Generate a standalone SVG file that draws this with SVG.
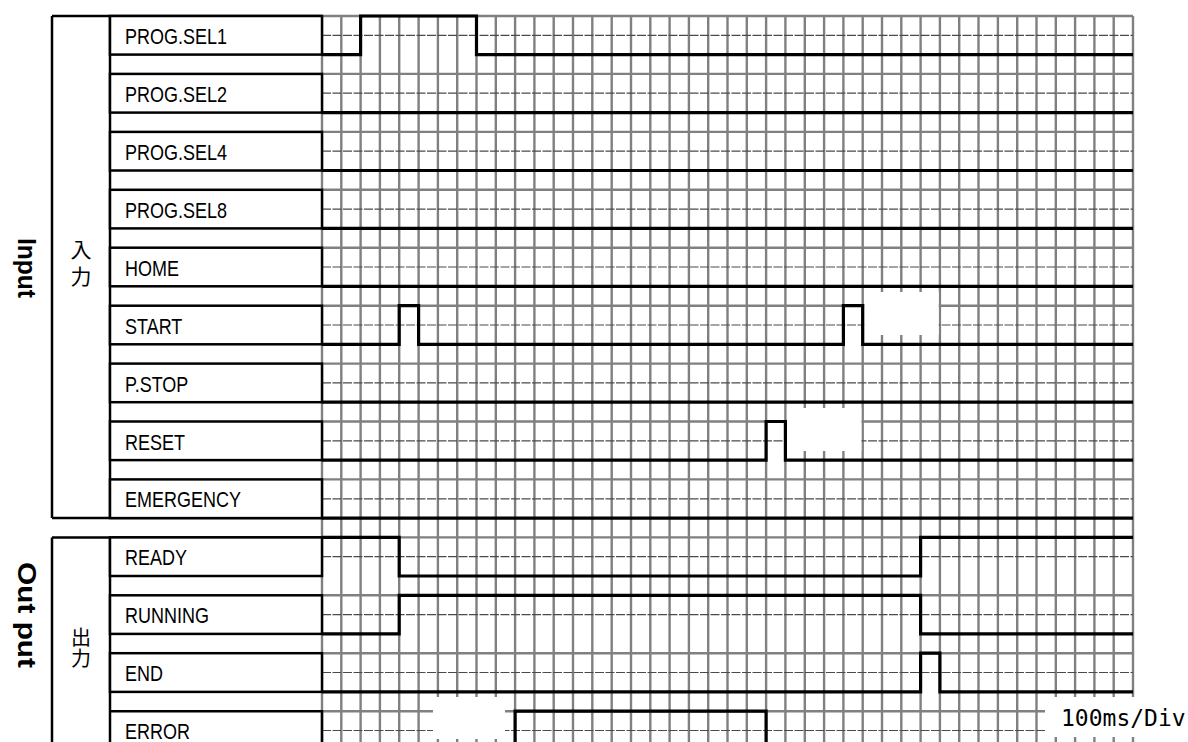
<svg xmlns="http://www.w3.org/2000/svg" width="1188" height="742" viewBox="0 0 1188 742">
<style>
.grid{stroke:#808080;stroke-width:2.4;fill:none}
.mid{stroke:#4a4a4a;stroke-width:1.2;fill:none;stroke-dasharray:9 1.5}
.frame{stroke:#000;stroke-width:2.5;fill:none}
.box{stroke:#000;stroke-width:2.5;fill:#fff}
.wave{stroke:#000;stroke-width:3.2;fill:none;stroke-linejoin:miter}
.lbl{font-family:"Liberation Sans",Arial,sans-serif;font-size:18px;fill:#000}
.side{font-family:"Liberation Sans",Arial,sans-serif;font-size:26px;font-weight:bold;fill:#000}
.jp{font-family:"Noto Sans CJK JP","Noto Sans CJK SC",sans-serif;font-size:21px;fill:#000;writing-mode:vertical-rl;text-anchor:middle}
.blank{fill:#fff;stroke:none}
</style>
<rect width="1188" height="742" fill="#fff"/>
<g id="grid">
<path class="grid" d="M322,16V742M341.3,16V742M360.6,16V742M379.9,16V742M399.2,16V742M418.6,16V742M437.9,16V742M457.2,16V742M476.5,16V742M495.8,16V742M515.1,16V742M534.4,16V742M553.7,16V742M573,16V742M592.3,16V742M611.7,16V742M631,16V742M650.3,16V742M669.6,16V742M688.9,16V742M708.2,16V742M727.5,16V742M746.8,16V742M766.1,16V742M785.4,16V742M804.8,16V742M824.1,16V742M843.4,16V742M862.7,16V742M882,16V742M901.3,16V742M920.6,16V742M939.9,16V742M959.2,16V742M978.5,16V742M997.9,16V742M1017.2,16V742M1036.5,16V742M1055.8,16V742M1075.1,16V742M1094.4,16V742M1113.7,16V742M1133,16V742"/>
<path class="grid" d="M322,16H1133M322,73.9H1133M322,131.9H1133M322,189.8H1133M322,247.7H1133M322,305.7H1133M322,363.6H1133M322,421.5H1133M322,479.4H1133M322,537.4H1133M322,595.3H1133M322,653.2H1133M322,711.2H1133"/>
<path class="mid" d="M322,35.3H1133M322,93.2H1133M322,151.2H1133M322,209.1H1133M322,267H1133M322,325H1133M322,382.9H1133M322,440.8H1133M322,498.8H1133M322,556.7H1133M322,614.6H1133M322,672.5H1133M322,730.5H1133"/>
</g>
<g id="blanks">
<rect class="blank" x="864.2" y="292" width="74.5" height="43"/>
<rect class="blank" x="786.9" y="408" width="74.5" height="43"/>
<rect class="blank" x="433" y="697" width="72" height="42"/>
<rect class="blank" x="1045" y="697" width="143" height="40"/>
</g>
<g id="frame-input">
<path class="frame" d="M52,16V518.1M110,16V518.1M52,16H322M52,518.1H322"/>
<text class="side" transform="translate(18,238) rotate(90)" textLength="60" lengthAdjust="spacingAndGlyphs">Input</text>
<text class="jp" x="81" y="266" letter-spacing="6">入力</text>
</g>
<g id="frame-output">
<path class="frame" d="M52,537.4V742M110,537.4V742M52,537.4H322"/>
<text class="side" transform="translate(18,562) rotate(90)" textLength="106" lengthAdjust="spacingAndGlyphs">Out put</text>
<text class="jp" x="81" y="648" letter-spacing="1" style="font-size:20px">出力</text>
</g>
<g id="sig-prog-sel1">
<rect class="box" x="110" y="16" width="212" height="38.6"/>
<text class="lbl" transform="translate(125,44) scale(1,1.22)">PROG.SEL1</text>
</g>
<g id="sig-prog-sel2">
<rect class="box" x="110" y="73.9" width="212" height="38.7"/>
<text class="lbl" transform="translate(125,101.9) scale(1,1.22)">PROG.SEL2</text>
</g>
<g id="sig-prog-sel4">
<rect class="box" x="110" y="131.9" width="212" height="38.6"/>
<text class="lbl" transform="translate(125,159.9) scale(1,1.22)">PROG.SEL4</text>
</g>
<g id="sig-prog-sel8">
<rect class="box" x="110" y="189.8" width="212" height="38.6"/>
<text class="lbl" transform="translate(125,217.8) scale(1,1.22)">PROG.SEL8</text>
</g>
<g id="sig-home">
<rect class="box" x="110" y="247.7" width="212" height="38.6"/>
<text class="lbl" transform="translate(125,275.7) scale(1,1.22)">HOME</text>
</g>
<g id="sig-start">
<rect class="box" x="110" y="305.7" width="212" height="38.6"/>
<text class="lbl" transform="translate(125,333.7) scale(1,1.22)">START</text>
</g>
<g id="sig-pstop">
<rect class="box" x="110" y="363.6" width="212" height="38.6"/>
<text class="lbl" transform="translate(125,391.6) scale(1,1.22)">P.STOP</text>
</g>
<g id="sig-reset">
<rect class="box" x="110" y="421.5" width="212" height="38.6"/>
<text class="lbl" transform="translate(125,449.5) scale(1,1.22)">RESET</text>
</g>
<g id="sig-emergency">
<rect class="box" x="110" y="479.4" width="212" height="38.7"/>
<text class="lbl" transform="translate(125,507.4) scale(1,1.22)">EMERGENCY</text>
</g>
<g id="sig-ready">
<rect class="box" x="110" y="537.4" width="212" height="38.6"/>
<text class="lbl" transform="translate(125,565.4) scale(1,1.22)">READY</text>
</g>
<g id="sig-running">
<rect class="box" x="110" y="595.3" width="212" height="38.6"/>
<text class="lbl" transform="translate(125,623.3) scale(1,1.22)">RUNNING</text>
</g>
<g id="sig-end">
<rect class="box" x="110" y="653.2" width="212" height="38.7"/>
<text class="lbl" transform="translate(125,681.2) scale(1,1.22)">END</text>
</g>
<g id="sig-error">
<path class="frame" d="M110,711.2H322V742"/>
<text class="lbl" transform="translate(125,739.2) scale(1,1.22)">ERROR</text>
</g>
<g id="connectors">
<path class="wave" d="M322,54.6H360.6V16H476.5V54.6H1133"/>
<path class="wave" d="M322,112.6H1133"/>
<path class="wave" d="M322,170.5H1133"/>
<path class="wave" d="M322,228.4H1133"/>
<path class="wave" d="M322,286.3H1133"/>
<path class="wave" d="M322,344.3H399.2V305.7H418.6V344.3H843.4V305.7H862.7V344.3H1133"/>
<path class="wave" d="M322,402.2H1133"/>
<path class="wave" d="M322,460.1H766.1V421.5H785.4V460.1H1133"/>
<path class="wave" d="M322,518.1H1133"/>
<path class="wave" d="M322,537.4H399.2V576H920.6V537.4H1133"/>
<path class="wave" d="M322,633.9H399.2V595.3H920.6V633.9H1133"/>
<path class="wave" d="M322,691.9H920.6V653.2H939.9V691.9H1133"/>
<path class="wave" d="M515.1,745V711.2H766.1V745"/>
</g>
<text x="1061" y="726" style="font-family:'DejaVu Sans Mono','Liberation Mono',monospace;font-size:23px;fill:#000">100ms/Div</text>
</svg>
